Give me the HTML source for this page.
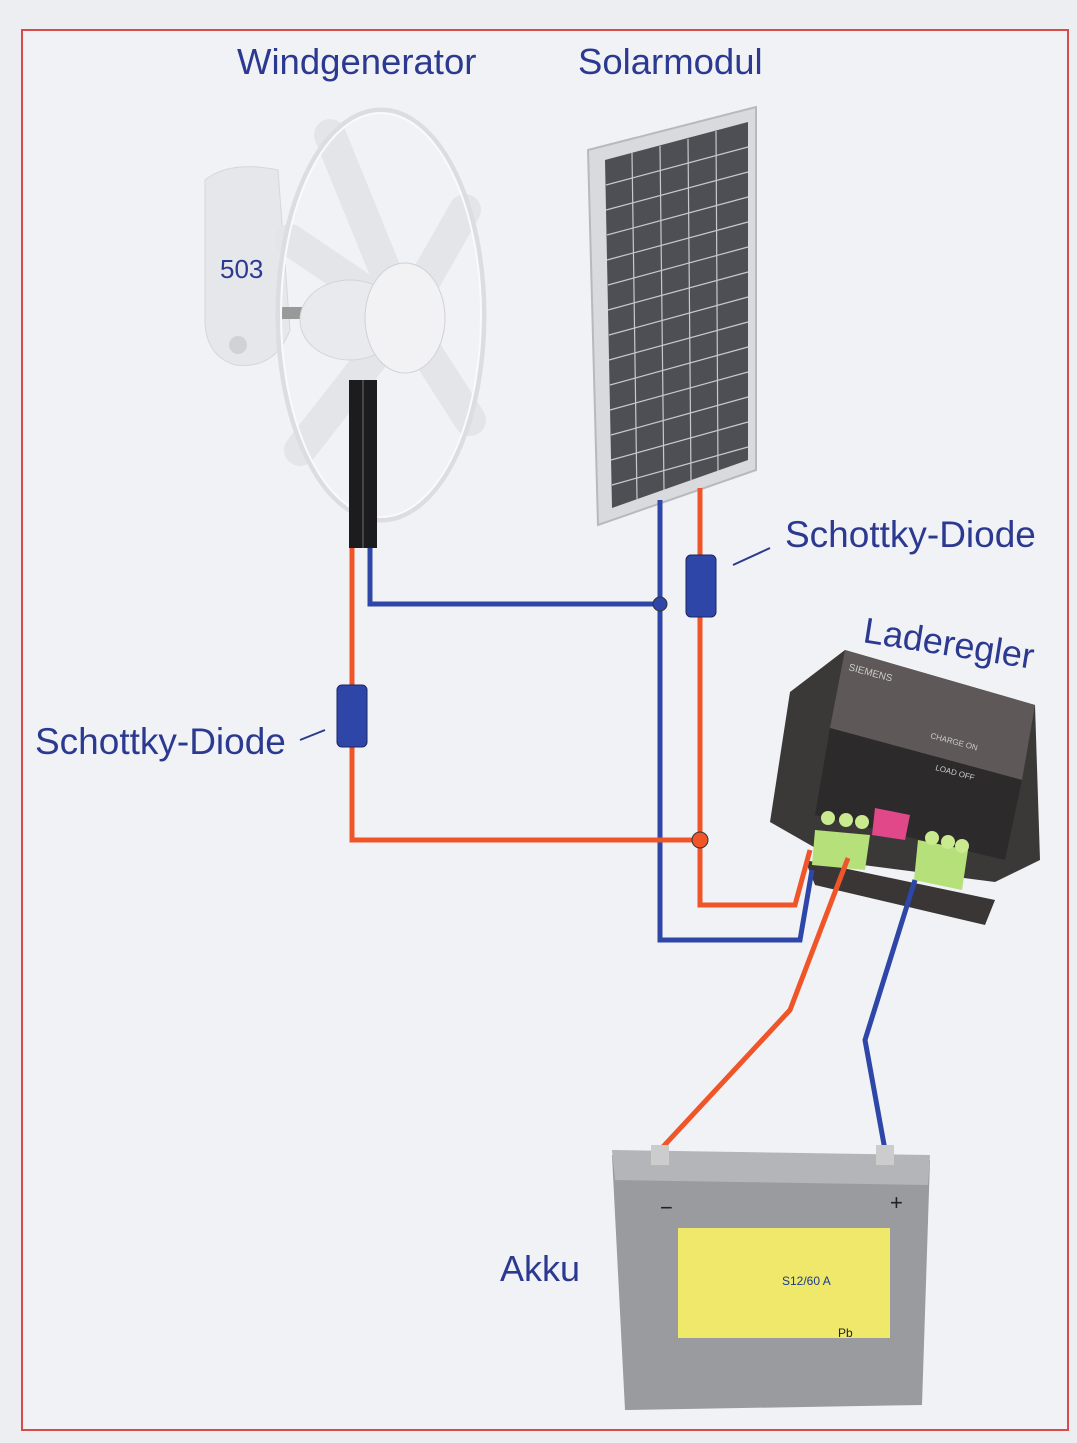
<!DOCTYPE html>
<html><head><meta charset="utf-8"><style>
html,body{margin:0;padding:0;background:#eceef2;}
svg{display:block}
text{font-family:"Liberation Sans",sans-serif;fill:#2b3990;}
</style></head><body>
<svg width="1077" height="1443" viewBox="0 0 1077 1443" xmlns="http://www.w3.org/2000/svg">
<rect width="1077" height="1443" fill="#eceef2"/>
<rect x="22" y="30" width="1046" height="1400" fill="#f1f2f5" stroke="#d94a4a" stroke-width="2"/>
<!-- labels -->
<text x="237" y="74" font-size="36.5">Windgenerator</text>
<text x="578" y="74" font-size="36.5">Solarmodul</text>
<text x="785" y="547" font-size="37">Schottky-Diode</text>
<text x="35" y="754" font-size="37">Schottky-Diode</text>
<text x="862" y="642" font-size="36" transform="rotate(9 862 642)">Laderegler</text>
<text x="500" y="1281" font-size="36">Akku</text>
<line x1="733" y1="565" x2="770" y2="548" stroke="#2b3990" stroke-width="2"/>
<line x1="300" y1="740" x2="325" y2="730" stroke="#2b3990" stroke-width="2"/>

<!-- wind generator -->
<path d="M205 180 Q230 160 278 170 L290 330 Q275 370 235 365 Q205 355 205 320 Z" fill="#e6e7ea" stroke="#d6d7db"/>
<circle cx="238" cy="345" r="9" fill="#d0d2d6"/>
<text x="220" y="278" font-size="26" style="fill:#2b3990">503</text>
<rect x="280" y="307" width="22" height="12" fill="#999"/>
<g stroke="#e4e5e8" stroke-width="32" stroke-linecap="round">
<line x1="404" y1="317" x2="330" y2="135"/>
<line x1="404" y1="317" x2="465" y2="210"/>
<line x1="404" y1="317" x2="470" y2="420"/>
<line x1="404" y1="317" x2="300" y2="450"/>
<line x1="404" y1="317" x2="290" y2="240"/>
</g>
<ellipse cx="381" cy="315" rx="103" ry="205" fill="none" stroke="#dcdde1" stroke-width="5"/>
<ellipse cx="381" cy="315" rx="100" ry="202" fill="none" stroke="#fafafa" stroke-width="2"/>
<ellipse cx="350" cy="320" rx="50" ry="40" fill="#e9eaed" stroke="#d3d4d8"/>
<ellipse cx="405" cy="318" rx="40" ry="55" fill="#f2f2f4" stroke="#d0d1d5"/>
<rect x="349" y="380" width="28" height="168" fill="#1c1c1e"/>
<line x1="363" y1="380" x2="363" y2="548" stroke="#555" stroke-width="1.5"/>

<!-- solar panel -->
<polygon points="588,150 756,107 756,470 598,525" fill="#d9dadd" stroke="#b8b9bd" stroke-width="2"/>
<polygon points="605,160 748,122 748,460 612,508" fill="#4d4f54"/>
<g stroke="#c8c9cc" stroke-width="1.2">
<line x1="632" y1="153" x2="637" y2="499"/>
<line x1="660" y1="146" x2="664" y2="490"/>
<line x1="688" y1="139" x2="691" y2="480"/>
<line x1="716" y1="131" x2="718" y2="471"/>
<line x1="606" y1="185" x2="748" y2="147"/><line x1="606" y1="210" x2="748" y2="172"/>
<line x1="607" y1="235" x2="748" y2="197"/><line x1="607" y1="260" x2="748" y2="222"/>
<line x1="608" y1="285" x2="748" y2="247"/><line x1="608" y1="310" x2="748" y2="272"/>
<line x1="609" y1="335" x2="748" y2="297"/><line x1="609" y1="360" x2="748" y2="322"/>
<line x1="610" y1="385" x2="748" y2="347"/><line x1="610" y1="410" x2="748" y2="372"/>
<line x1="611" y1="435" x2="748" y2="397"/><line x1="611" y1="460" x2="748" y2="422"/>
<line x1="612" y1="485" x2="748" y2="447"/>
</g>

<!-- controller -->
<polygon points="790,692 845,650 1035,705 1040,860 995,882 840,862 770,822" fill="#3b3838"/>
<polygon points="845,650 1035,705 1022,780 830,728" fill="#5e5858"/>
<polygon points="830,728 1022,780 1005,860 815,815" fill="#2c2a2a"/>
<polygon points="805,860 995,900 985,925 815,885" fill="#3a3636"/>
<text x="848" y="670" font-size="10" transform="rotate(15 848 670)" style="fill:#ccc">SIEMENS</text>
<text x="930" y="738" font-size="8" transform="rotate(15 930 738)" style="fill:#ccc">CHARGE ON</text>
<text x="935" y="770" font-size="8" transform="rotate(15 935 770)" style="fill:#ccc">LOAD OFF</text>
<polygon points="815,830 870,835 865,870 812,865" fill="#b6e07a"/>
<circle cx="828" cy="818" r="7" fill="#c9ea8e"/><circle cx="846" cy="820" r="7" fill="#c9ea8e"/><circle cx="862" cy="822" r="7" fill="#c9ea8e"/>
<polygon points="875,808 910,815 905,840 872,835" fill="#e0488a"/>
<polygon points="918,840 968,850 962,890 914,880" fill="#b6e07a"/>
<circle cx="932" cy="838" r="7" fill="#c9ea8e"/><circle cx="948" cy="842" r="7" fill="#c9ea8e"/><circle cx="962" cy="846" r="7" fill="#c9ea8e"/>

<!-- wires -->
<g fill="none" stroke-width="5" stroke-linejoin="miter">
<polyline points="370,548 370,604 660,604" stroke="#2d46a8"/>
<polyline points="660,500 660,940 800,940 812,870" stroke="#2d46a8"/>
<polyline points="352,548 352,840 700,840" stroke="#f0552a"/>
<polyline points="700,488 700,905 795,905 810,850" stroke="#f0552a"/>
<polyline points="660,1150 790,1010 848,858" stroke="#f0552a"/>
<polyline points="885,1150 865,1040 915,880" stroke="#2d46a8"/>
</g>
<circle cx="660" cy="604" r="7" fill="#2d46a8" stroke="#333"/>
<circle cx="700" cy="840" r="8" fill="#f0552a" stroke="#333"/>
<!-- diodes -->
<rect x="337" y="685" width="30" height="62" rx="5" fill="#2d46a8" stroke="#1a2560"/>
<rect x="686" y="555" width="30" height="62" rx="5" fill="#2d46a8" stroke="#1a2560"/>

<!-- battery -->
<polygon points="612,1155 930,1160 922,1405 625,1410" fill="#9a9b9e"/>
<polygon points="612,1150 930,1155 928,1185 615,1180" fill="#b4b5b8"/>
<rect x="651" y="1145" width="18" height="20" fill="#ccc"/>
<rect x="876" y="1145" width="18" height="20" fill="#ccc"/>
<text x="660" y="1215" font-size="22" style="fill:#222">−</text>
<text x="890" y="1210" font-size="22" style="fill:#222">+</text>
<rect x="678" y="1228" width="212" height="110" fill="#efe86a"/>
<text x="782" y="1285" font-size="12" style="fill:#1a3c8a">S12/60 A</text>
<text x="838" y="1337" font-size="12" style="fill:#222">Pb</text>
</svg>
</body></html>
